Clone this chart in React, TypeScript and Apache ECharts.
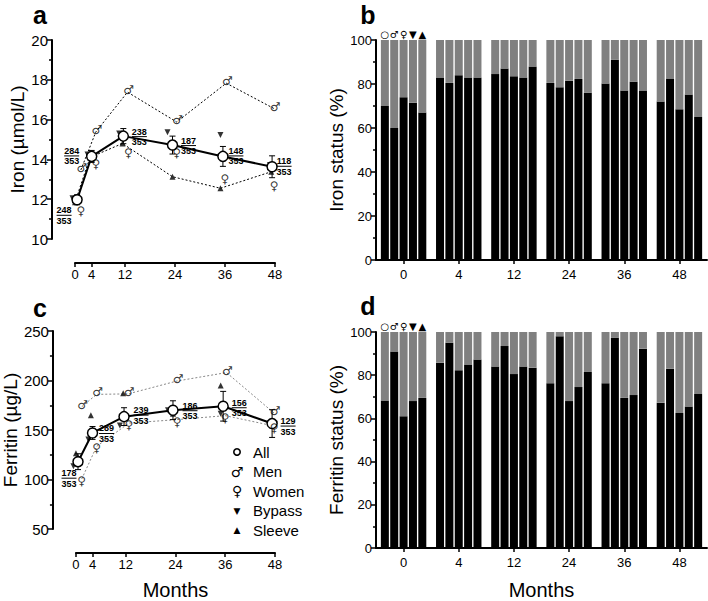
import React, { useEffect, useRef } from "react";
import * as echarts from "echarts";

// ---------- data ----------
const months = [0, 4, 12, 24, 36, 48];
const monthLabels = ["0", "4", "12", "24", "36", "48"];
const nTotal = 353;

// x positions (months) at which each group is drawn in the line panels
const allX = [0.5, 4, 11.6, 23.4, 35.5, 47.3];
const menX = [1.4, 5, 12.6, 24.4, 36.3, 47.8];
const womenX = [1.4, 5, 12.8, 24.4, 36, 47.8];
const bypassX = [-0.6, 3, 10.6, 22.2, 34.9, 46.8];
const sleeveX = [0, 3.6, 11.4, 23.4, 34.9, 47.1];

// panel a: iron (µmol/L)
const ironAll = [11.97, 14.15, 15.17, 14.72, 14.15, 13.63];
const ironAllErr = [0.25, 0.3, 0.38, 0.45, 0.5, 0.55];
const ironMen = [13.47, 15.38, 17.38, 15.88, 17.83, 16.55];
const ironWomen = [11.5, 13.85, 14.43, 14.42, 13.13, 12.75];
const ironBypass = [12.05, 14.25, 15.3, 15.37, 15.22, 13.72];
const ironSleeve = [11.85, 14.1, 14.8, 13.13, 12.55, 13.38];
const ironN = [248, 284, 238, 187, 148, 118];

// panel c: ferritin (µg/L)
const ferAll = [118, 147, 163.5, 170, 174, 156.5];
const ferAllErr = [8, 6.5, 9, 9.5, 15, 14];
const ferMen = [173.5, 186, 186.5, 199.5, 208, 167];
const ferWomen = [100.5, 133.5, 157, 160.5, 164.5, 154];
const ferBypass = [113.5, 140.5, 154.5, 170, 166.5, 154.5];
const ferSleeve = [126.5, 165, 187, 166.5, 195, 156];
const ferN = [178, 289, 239, 186, 156, 129];

// panel b: iron status (% normal)
const groupNames = ["All", "Men", "Women", "Bypass", "Sleeve"];
const groupGlyphs = ["○", "♂", "♀", "▼", "▲"];
const ironStatusAll = [70, 83, 84.5, 80.5, 80.2, 72];
const ironStatusMen = [60, 80.5, 87, 78.5, 91, 82.5];
const ironStatusWomen = [74, 84, 83.5, 81.5, 77, 68.5];
const ironStatusBypass = [71.5, 83, 83, 82.3, 81, 75.2];
const ironStatusSleeve = [67, 83, 88, 76, 77, 65];

// panel d: ferritin status (% normal)
const ferStatusAll = [68.3, 85.8, 84, 76.3, 76.3, 67.3];
const ferStatusMen = [91, 95, 93.5, 98, 97.3, 83];
const ferStatusWomen = [61, 82.3, 80.5, 68, 69.5, 62.5];
const ferStatusBypass = [68, 85, 84, 74.5, 70.8, 65.5];
const ferStatusSleeve = [69.5, 87.3, 83.5, 81.5, 92.3, 71.3];

// ---------- layout / style ----------
const FONT = '"Liberation Sans", Arial, Helvetica, sans-serif';
const GLYPH = '"DejaVu Sans", sans-serif';
const labelOffA = [[-13, 16], [-20, 0], [16, 1], [16, 1], [13, 0], [12, 0]];
const labelOffC = [[-9, 17], [14, 1], [17, -1], [17, 1], [16, 2], [16, 3]];

const zip = (xs: number[], ys: number[]) => xs.map((x, i) => [x, ys[i]]);

function linePanelSeries(
  idx: number,
  all: number[],
  err: number[],
  men: number[],
  women: number[],
  bypass: number[],
  sleeve: number[],
  ns: number[],
  offs: number[][],
  dashed: { data: number[][]; color: string }[]
) {
  const series: any[] = [];
  dashed.forEach((d) =>
    series.push({
      type: "line",
      xAxisIndex: idx,
      yAxisIndex: idx,
      data: d.data,
      symbol: "none",
      clip: false,
      silent: true,
      lineStyle: { color: d.color, width: 1, type: [2, 2] },
      z: 1,
    })
  );
  series.push({
    type: "custom",
    xAxisIndex: idx,
    yAxisIndex: idx,
    data: allX.map((x, i) => [x, all[i], err[i]]),
    z: 3,
    renderItem: (params: any, api: any) => {
      const x = api.value(0);
      const y = api.value(1);
      const e = api.value(2);
      const p1 = api.coord([x, y + e]);
      const p2 = api.coord([x, y - e]);
      const w = 3;
      const st = { stroke: "#000", lineWidth: 1 };
      return {
        type: "group",
        children: [
          { type: "line", shape: { x1: p1[0], y1: p1[1], x2: p2[0], y2: p2[1] }, style: st },
          { type: "line", shape: { x1: p1[0] - w, y1: p1[1], x2: p1[0] + w, y2: p1[1] }, style: st },
          { type: "line", shape: { x1: p2[0] - w, y1: p2[1], x2: p2[0] + w, y2: p2[1] }, style: st },
        ],
      };
    },
  });
  series.push({
    type: "scatter",
    xAxisIndex: idx,
    yAxisIndex: idx,
    data: zip(bypassX, bypass),
    symbol: "triangle",
    symbolRotate: 180,
    symbolSize: 6,
    itemStyle: { color: "#000" },
    clip: false,
    z: 4,
  });
  series.push({
    type: "scatter",
    xAxisIndex: idx,
    yAxisIndex: idx,
    data: zip(sleeveX, sleeve),
    symbol: "triangle",
    symbolSize: 6,
    itemStyle: { color: "#000" },
    clip: false,
    z: 4,
  });
  series.push({
    type: "line",
    xAxisIndex: idx,
    yAxisIndex: idx,
    data: allX.map((x, i) => ({
      value: [x, all[i]],
      label: { offset: offs[i] },
    })),
    symbol: "circle",
    symbolSize: 10,
    clip: false,
    lineStyle: { color: "#000", width: 2 },
    itemStyle: { color: "#fff", borderColor: "#000", borderWidth: 1.5 },
    z: 5,
    label: {
      show: true,
      position: "inside",
      align: "center",
      verticalAlign: "middle",
      formatter: (p: any) => `{num|${ns[p.dataIndex]}}\n{bar|}\n{den|${nTotal}}`,
      rich: {
        num: { fontSize: 9, fontWeight: "bold", lineHeight: 9, color: "#000", fontFamily: FONT },
        bar: { width: 15, height: 1, lineHeight: 1, backgroundColor: "#000" },
        den: { fontSize: 9, fontWeight: "bold", lineHeight: 10, color: "#000", fontFamily: FONT },
      },
    },
  });
  const glyph = (xs: number[], ys: number[], g: string, off: number[]) => ({
    type: "scatter",
    xAxisIndex: idx,
    yAxisIndex: idx,
    data: zip(xs, ys),
    symbol: "circle",
    symbolSize: 1,
    itemStyle: { color: "transparent" },
    clip: false,
    z: 6,
    label: {
      show: true,
      position: "inside",
      formatter: g,
      fontSize: 12,
      fontFamily: GLYPH,
      fontWeight: "bold",
      color: "#000",
      offset: off,
    },
  });
  series.push(glyph(menX, men, "♂", [1, -2]));
  series.push(glyph(womenX, women, "♀", [0, 2]));
  return series;
}

function barPanelSeries(idx: number, groups: number[][]) {
  const series: any[] = [];
  groups.forEach((vals, k) => {
    series.push({
      type: "bar",
      name: groupNames[k],
      xAxisIndex: idx,
      yAxisIndex: idx,
      stack: "s" + idx + "_" + k,
      data: vals,
      barWidth: 8,
      barGap: "17%",
      itemStyle: { color: "#000" },
    });
    series.push({
      type: "bar",
      name: groupNames[k] + " rest",
      xAxisIndex: idx,
      yAxisIndex: idx,
      stack: "s" + idx + "_" + k,
      data: vals.map((v, i) =>
        i === 0
          ? {
              value: 100 - v,
              label: {
                show: true,
                position: "top",
                distance: 1,
                formatter: groupGlyphs[k],
                fontSize: 10,
                fontFamily: GLYPH,
                fontWeight: "bold",
                color: "#000",
              },
            }
          : 100 - v
      ),
      barWidth: 8,
      barGap: "17%",
      itemStyle: { color: "#808080" },
    });
  });
  return series;
}

const axisLine = { show: true, onZero: false, lineStyle: { color: "#000", width: 2 } };

function valueXAxis(gridIndex: number, withName: boolean) {
  return {
    gridIndex,
    type: "value",
    min: 0,
    max: 48,
    offset: 24,
    axisLine,
    axisTick: { show: true, customValues: months, length: 4, lineStyle: { color: "#000", width: 1.5 } },
    axisLabel: { customValues: months, fontSize: 13, margin: 5, color: "#000", fontFamily: FONT },
    splitLine: { show: false },
    name: withName ? "Months" : "",
    nameLocation: "middle",
    nameGap: 27,
    nameTextStyle: { fontSize: 20, color: "#000", fontFamily: FONT },
  };
}

function catXAxis(gridIndex: number, withName: boolean) {
  return {
    gridIndex,
    type: "category",
    data: monthLabels,
    axisLine,
    axisTick: { show: true, alignWithLabel: true, length: 4, lineStyle: { color: "#000", width: 1.5 } },
    axisLabel: { fontSize: 13, margin: 8, color: "#000", fontFamily: FONT },
    name: withName ? "Months" : "",
    nameLocation: "middle",
    nameGap: 32,
    nameTextStyle: { fontSize: 20, color: "#000", fontFamily: FONT },
  };
}

function yAxis(gridIndex: number, min: number, max: number, interval: number, name: string, offset: number, fs: number, gap: number) {
  return {
    gridIndex,
    type: "value",
    min,
    max,
    interval,
    offset,
    axisLine,
    axisTick: { show: true, length: 5, lineStyle: { color: "#000", width: 1.5 } },
    minorTick: { show: true, splitNumber: 2, length: 3, lineStyle: { color: "#000", width: 1.5 } },
    splitLine: { show: false },
    minorSplitLine: { show: false },
    axisLabel: { fontSize: fs, margin: 4, color: "#000", fontFamily: FONT },
    name,
    nameLocation: "middle",
    nameGap: gap,
    nameTextStyle: { fontSize: 19, color: "#000", fontFamily: FONT },
  };
}

const legendRows = [
  { g: "○", t: "All" },
  { g: "♂", t: "Men" },
  { g: "♀", t: "Women" },
  { g: "▼", t: "Bypass" },
  { g: "▲", t: "Sleeve" },
];

export default function App() {
  const ref = useRef<HTMLDivElement>(null);
  useEffect(() => {
    if (!ref.current) return;
    const chart = echarts.init(ref.current, undefined, { renderer: "svg" });
    const panelLetter = (t: string, x: number, y: number) => ({
      type: "text",
      x,
      y,
      style: {
        text: t,
        fontSize: 25,
        fontWeight: "bold",
        fontFamily: FONT,
        fill: "#000",
        align: "center",
        verticalAlign: "middle",
      },
    });
    const legend: any[] = [];
    legendRows.forEach((r, i) => {
      const y = 452 + i * 19.5;
      if (r.g === "○") {
        legend.push({
          type: "circle",
          shape: { cx: 237, cy: y, r: 3.2 },
          style: { fill: "#fff", stroke: "#000", lineWidth: 1.6 },
        });
      } else {
        legend.push({
          type: "text",
          x: 237,
          y,
          style: {
            text: r.g,
            fontSize: r.g === "▼" || r.g === "▲" ? 9 : 14,
            fontFamily: GLYPH,
            fontWeight: "bold",
            fill: "#000",
            align: "center",
            verticalAlign: "middle",
          },
        });
      }
      legend.push({
        type: "text",
        x: 253,
        y,
        style: { text: r.t, fontSize: 15, fontFamily: FONT, fill: "#000", align: "left", verticalAlign: "middle" },
      });
    });
    const option: any = {
      animation: false,
      backgroundColor: "#fff",
      textStyle: { fontFamily: FONT },
      grid: [
        { left: 75, top: 40, width: 200, height: 199 },
        { left: 376, top: 40, width: 331, height: 220 },
        { left: 75, top: 331, width: 200, height: 199 },
        { left: 376, top: 332, width: 331, height: 219 },
      ],
      xAxis: [valueXAxis(0, false), catXAxis(1, false), valueXAxis(2, true), catXAxis(3, true)],
      yAxis: [
        yAxis(0, 10, 20, 2, "Iron (µmol/L)", 23, 15, 22),
        yAxis(1, 0, 100, 20, "Iron status (%)", 0, 13, 30),
        yAxis(2, 50, 250, 50, "Ferritin (µg/L)", 23, 15, 29),
        yAxis(3, 0, 100, 20, "Ferritin status (%)", 0, 13, 30),
      ],
      series: [
        ...linePanelSeries(0, ironAll, ironAllErr, ironMen, ironWomen, ironBypass, ironSleeve, ironN, labelOffA, [
          { data: zip(menX, ironMen), color: "#000" },
          { data: zip(sleeveX, ironSleeve), color: "#000" },
        ]),
        ...barPanelSeries(1, [ironStatusAll, ironStatusMen, ironStatusWomen, ironStatusBypass, ironStatusSleeve]),
        ...linePanelSeries(2, ferAll, ferAllErr, ferMen, ferWomen, ferBypass, ferSleeve, ferN, labelOffC, [
          { data: zip(menX, ferMen), color: "#888" },
          { data: zip(womenX, ferWomen), color: "#888" },
        ]),
        ...barPanelSeries(3, [ferStatusAll, ferStatusMen, ferStatusWomen, ferStatusBypass, ferStatusSleeve]),
      ],
      graphic: [
        panelLetter("a", 40, 15),
        panelLetter("b", 368, 15),
        panelLetter("c", 40, 308),
        panelLetter("d", 368, 306),
        ...legend,
      ],
    };
    chart.setOption(option);
    return () => chart.dispose();
  }, []);
  return <div ref={ref} style={{ width: 708, height: 601, position: "absolute", left: 0, top: 0 }} />;
}
